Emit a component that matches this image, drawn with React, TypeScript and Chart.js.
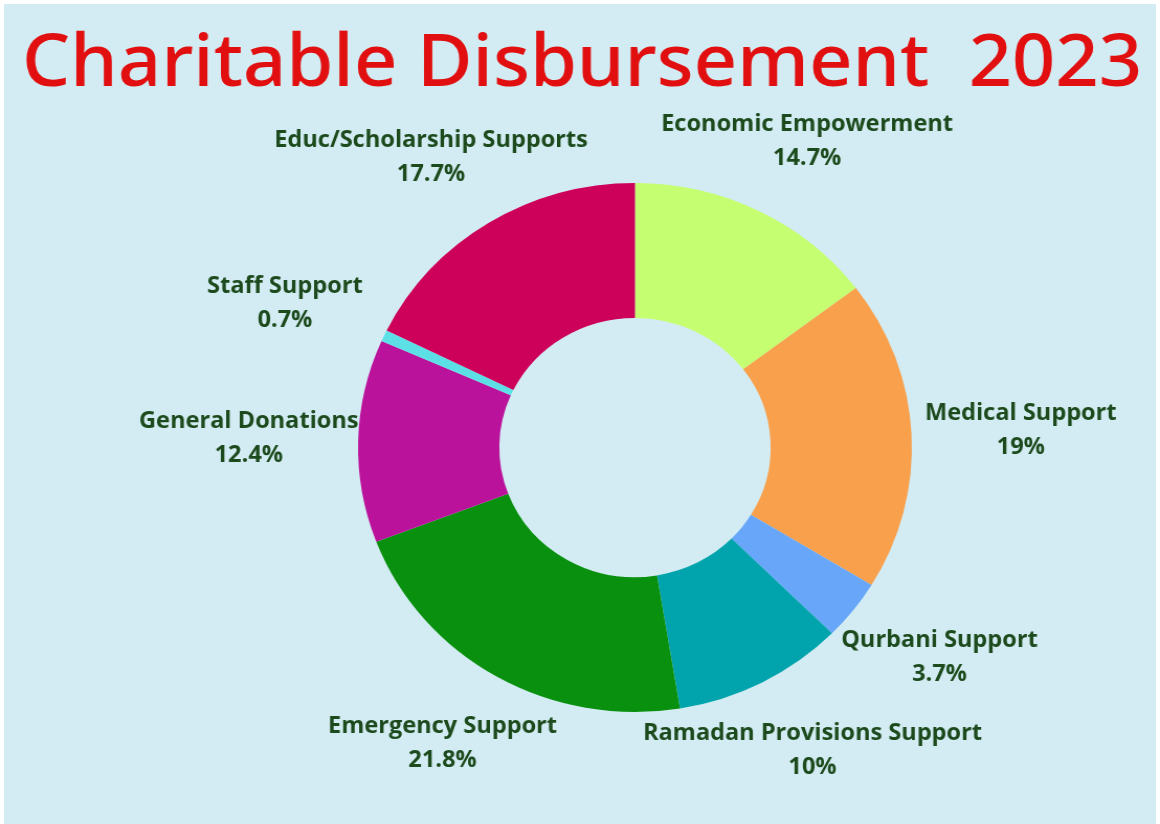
import { useEffect, useRef } from "react";
import { Chart, registerables } from "chart.js";

Chart.register(...registerables);

const TITLE = "Charitable Disbursement  2023";

const categories = [
  "Economic Empowerment",
  "Medical Support",
  "Qurbani Support",
  "Ramadan Provisions Support",
  "Emergency Support",
  "General Donations",
  "Staff Support",
  "Educ/Scholarship Supports",
];

const shares = [14.7, 19, 3.7, 10, 21.8, 12.4, 0.7, 17.7];

const valueLabels = shares.map((v) => `${v}%`);

const sliceColors = [
  "#c5fe70",
  "#f8a04c",
  "#67a6f8",
  "#01a4ad",
  "#0a900f",
  "#bb129b",
  "#5ce0e6",
  "#cd005a",
];

const TITLE_COLOR = "#e10f0f";
const LABEL_COLOR = "#1c4a1c";
const BG_COLOR = "#d3ecf3";

// canvas drawn narrower then stretched horizontally, like the reference
const CANVAS_W = 1108;
const CANVAS_H = 824;

const outerLabelsPlugin = {
  id: "outerLabels",
  afterDraw(chart: any) {
    const ctx = chart.ctx as CanvasRenderingContext2D;
    const meta = chart.getDatasetMeta(0);
    ctx.save();
    ctx.fillStyle = LABEL_COLOR;
    ctx.font = 'bold 22.5px "Open Sans"';
    ctx.textAlign = "center";
    ctx.textBaseline = "middle";
    meta.data.forEach((arc: any, i: number) => {
      const p = arc.getProps(["x", "y", "startAngle", "endAngle", "outerRadius"], true);
      const mid = (p.startAngle + p.endAngle) / 2;
      const lx = p.x + Math.cos(mid) * p.outerRadius * 1.395;
      const ly = p.y + Math.sin(mid) * p.outerRadius * 1.29;
      ctx.fillText(categories[i], lx, ly - 17);
      ctx.fillText(valueLabels[i], lx, ly + 17);
    });
    ctx.restore();

    // title
    ctx.save();
    ctx.font = '500 73px "Noto Sans"';
    const w = ctx.measureText(TITLE).width;
    ctx.translate(556, 86);
    ctx.scale(1070 / w, 1);
    ctx.textAlign = "center";
    ctx.textBaseline = "alphabetic";
    ctx.fillStyle = TITLE_COLOR;
    ctx.fillText(TITLE, 0, 0);
    ctx.restore();
  },
};

export default function App() {
  const ref = useRef<HTMLCanvasElement | null>(null);

  useEffect(() => {
    if (!ref.current) return;
    const chart = new Chart(ref.current, {
      type: "doughnut",
      data: {
        labels: categories,
        datasets: [
          {
            data: shares,
            backgroundColor: sliceColors,
            borderWidth: 0,
          },
        ],
      },
      options: {
        animation: false,
        responsive: false,
        devicePixelRatio: 1,
        cutout: "49%",
        rotation: 0,
        layout: {
          padding: { left: 342, right: 237, top: 183, bottom: 112 },
        },
        plugins: {
          legend: { display: false },
          tooltip: { enabled: false },
          title: { display: false },
        },
      },
      plugins: [outerLabelsPlugin],
    });
    return () => chart.destroy();
  }, []);

  return (
    <div
      style={{
        position: "fixed",
        left: 0,
        top: 0,
        width: 1160,
        height: 824,
        background: "#ffffff",
        overflow: "hidden",
      }}
    >
      <div
        style={{
          position: "absolute",
          left: 4,
          top: 4,
          width: 1152,
          height: 820,
          background: BG_COLOR,
        }}
      />
      <canvas
        ref={ref}
        width={CANVAS_W}
        height={CANVAS_H}
        style={{
          position: "absolute",
          left: 0,
          top: 0,
          width: "1160px",
          height: "824px",
        }}
      />
    </div>
  );
}
